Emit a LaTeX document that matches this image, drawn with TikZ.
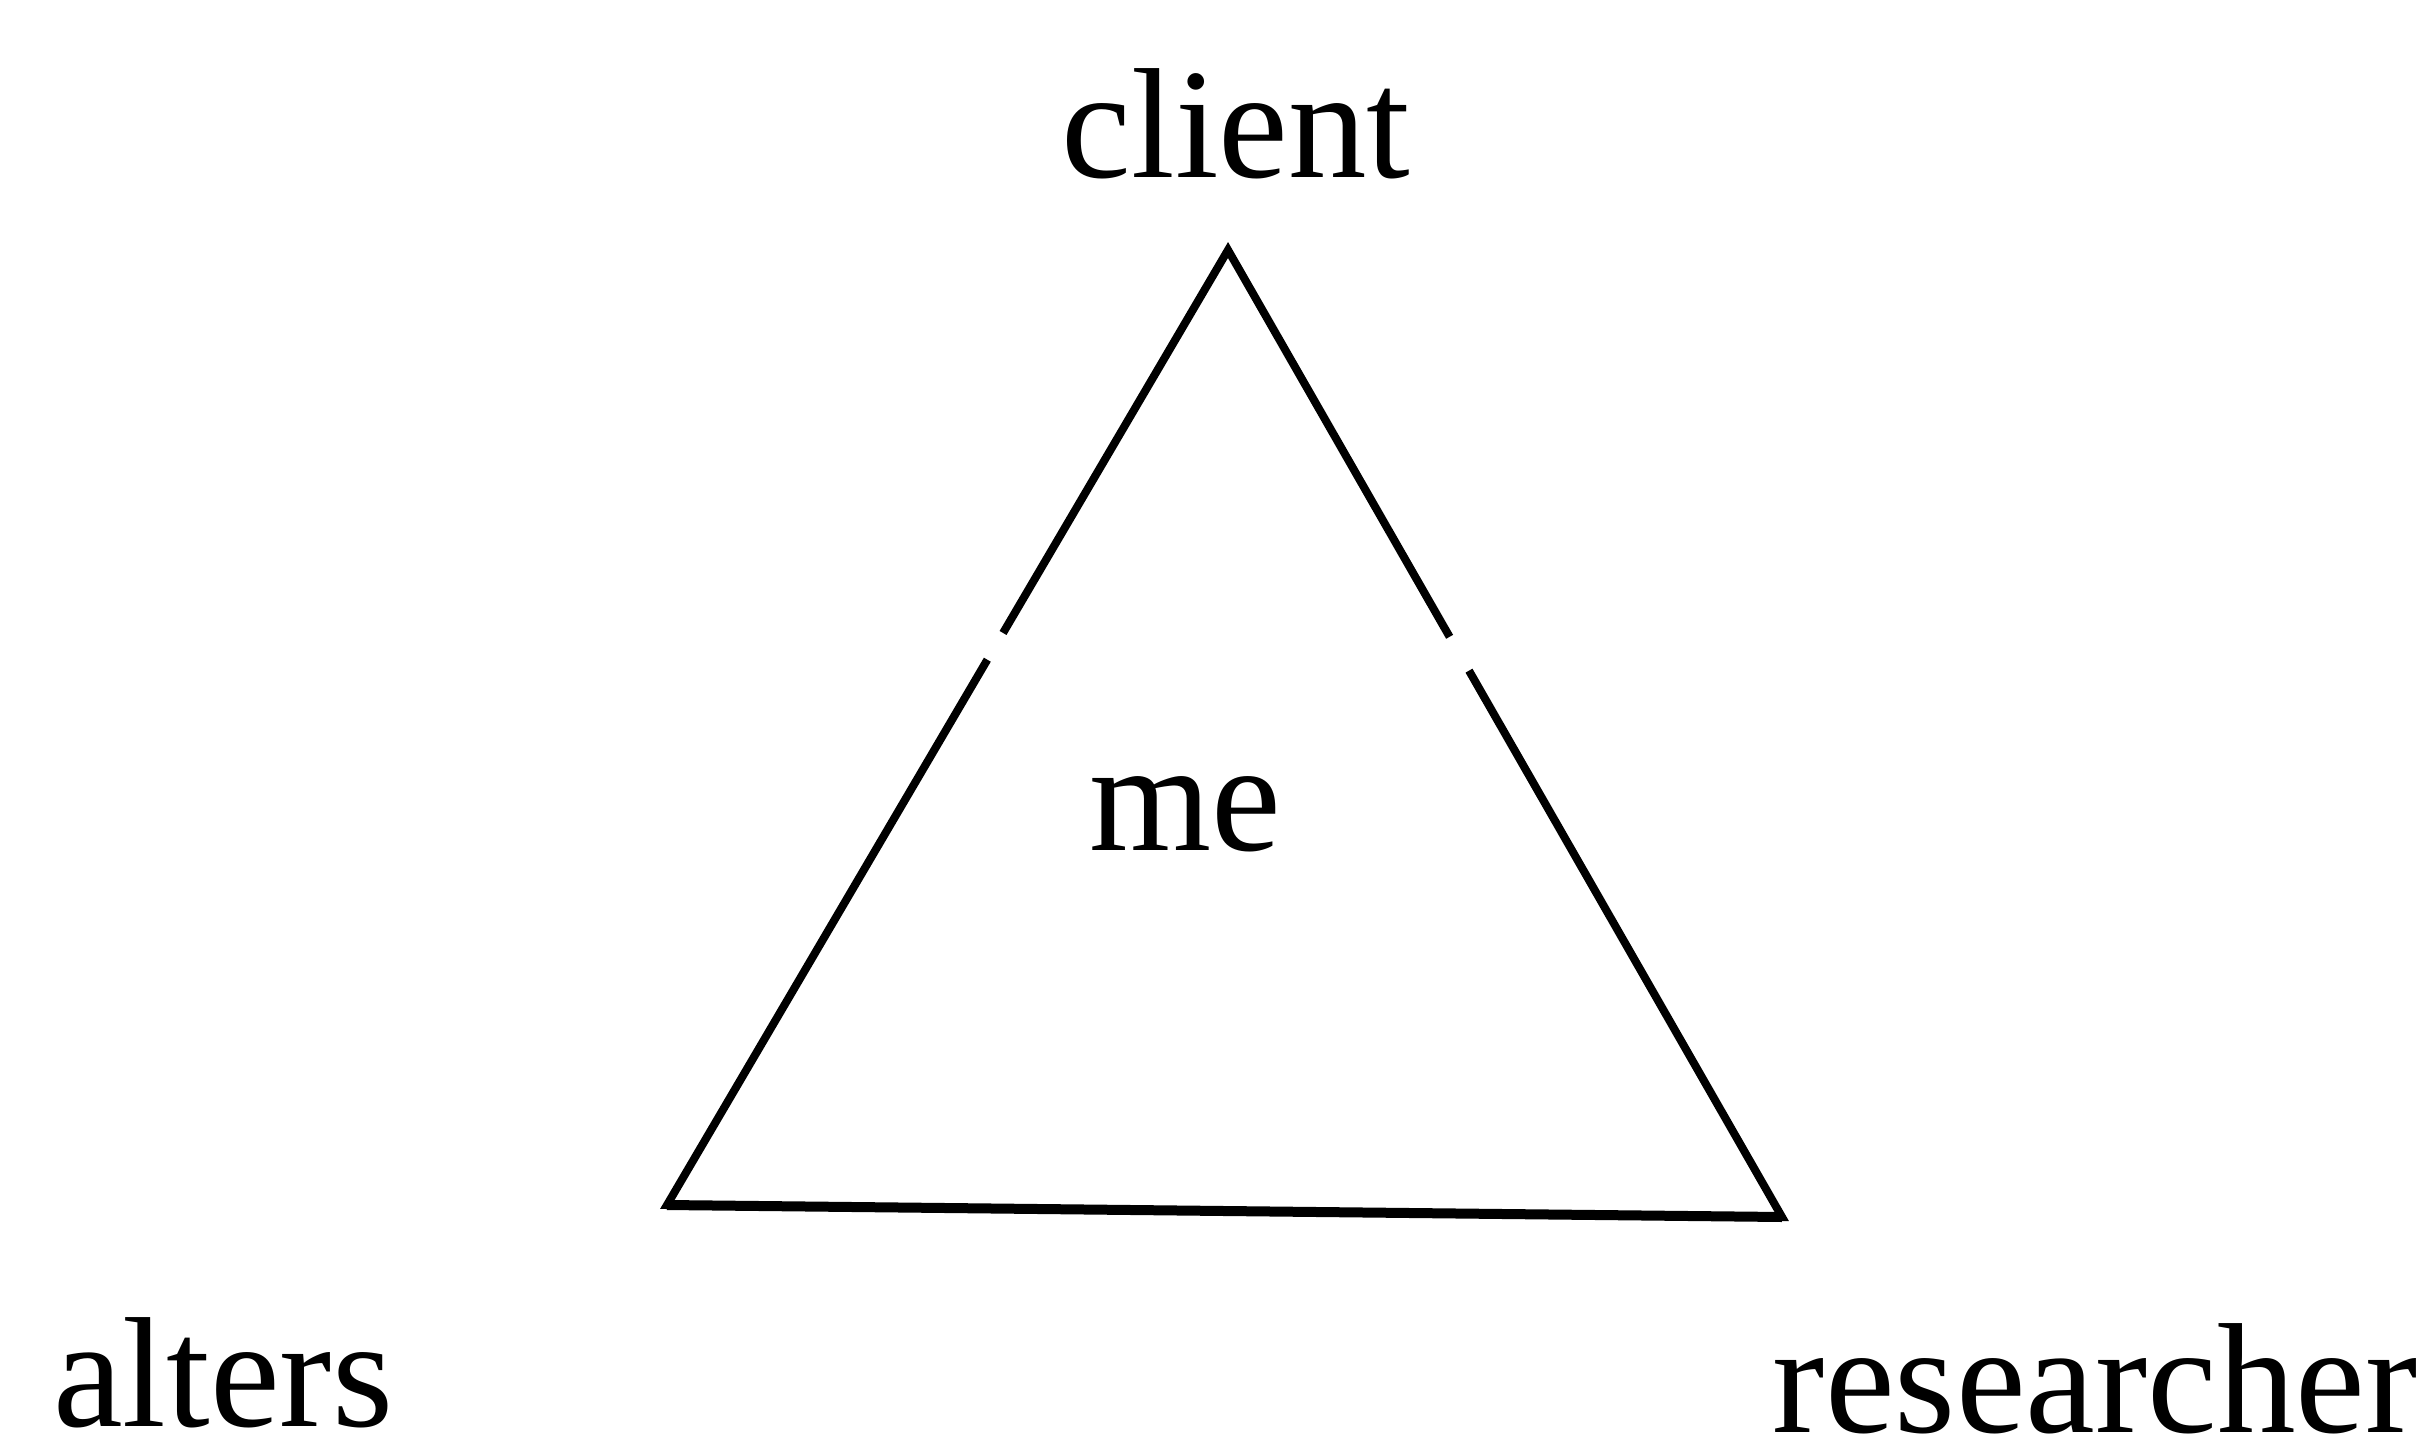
\documentclass[tikz,border=0pt]{standalone}
\usepackage{fontspec}
\setmainfont{Liberation Serif}
\usetikzlibrary{calc}
\begin{document}
\begin{tikzpicture}[x=1pt,y=-1pt,
  lbl/.style={inner sep=0pt,anchor=base,font=\fontsize{157}{180}\selectfont},
  side/.style={line width=8pt,line cap=butt,line join=miter},
  bottom/.style={line width=10pt}]
\useasboundingbox (0,0) rectangle (2423,1445);
\coordinate (A) at (1228,250);
\coordinate (L) at (667,1205);
\coordinate (R) at (1782,1217);
\node[lbl] (client) at (1236,177) {client};
\node[lbl] (me) at (1185,850) {me};
\node[lbl,anchor=base west] (alters) at (53,1426) {alters};
\node[lbl,anchor=base east] (researcher) at (2418,1432) {researcher};
\draw[side] ($(A)!0.401!(L)$) -- (A) -- ($(A)!0.400!(R)$);
\draw[side] ($(A)!0.429!(L)$) -- (L) -- (R) -- ($(A)!0.435!(R)$);
\draw[bottom] (L) -- (R);
\end{tikzpicture}
\end{document}
